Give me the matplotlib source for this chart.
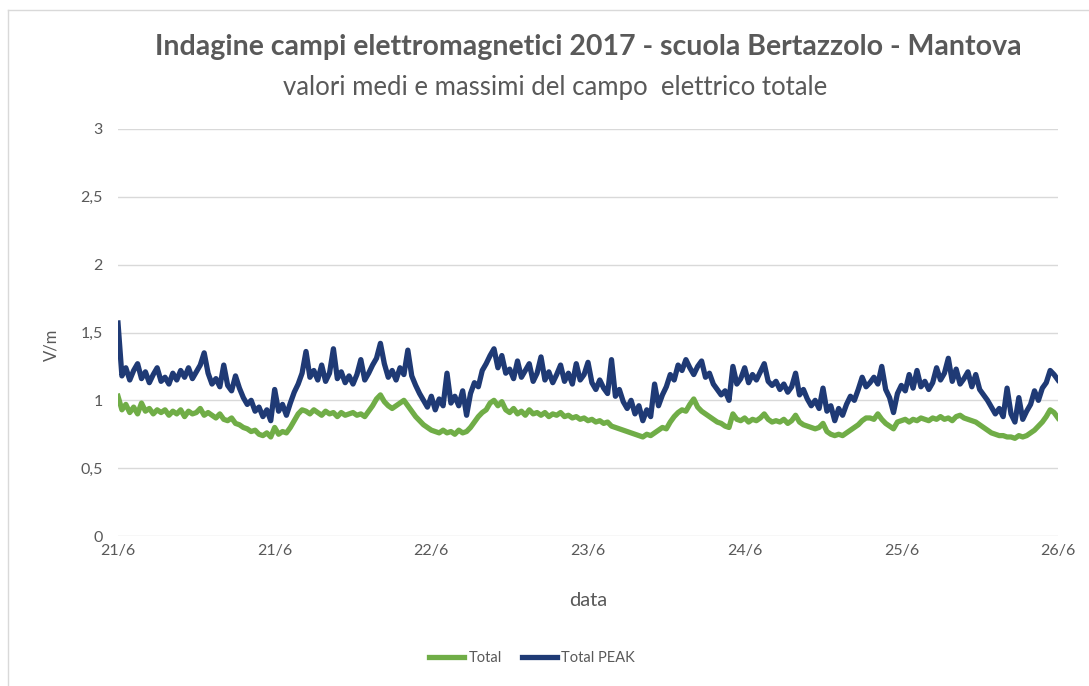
import numpy as np
import matplotlib.pyplot as plt
from matplotlib.lines import Line2D

# ore dall'inizio della misura (21/6 00:00), un valore ogni mezz'ora
ore = np.arange(241) * 0.5

total = [
    1.03, 0.93, 0.97, 0.91, 0.95, 0.90, 0.98, 0.92, 0.94, 0.90, 0.93, 0.91,
    0.93, 0.89, 0.92, 0.90, 0.93, 0.88, 0.92, 0.90, 0.91, 0.94, 0.89, 0.91,
    0.89, 0.87, 0.90, 0.86, 0.85, 0.87, 0.83, 0.82, 0.80, 0.79, 0.77, 0.78,
    0.75, 0.74, 0.76, 0.73, 0.80, 0.75, 0.77, 0.76, 0.80, 0.85, 0.90, 0.93,
    0.92, 0.90, 0.93, 0.91, 0.89, 0.92, 0.90, 0.91, 0.88, 0.91, 0.89, 0.90,
    0.91, 0.89, 0.90, 0.88, 0.92, 0.96, 1.01, 1.04, 0.99, 0.96, 0.94, 0.96,
    0.98, 1.00, 0.96, 0.92, 0.88, 0.85, 0.82, 0.80, 0.78, 0.77, 0.76, 0.78,
    0.76, 0.77, 0.75, 0.78, 0.76, 0.77, 0.80, 0.84, 0.88, 0.91, 0.93, 0.98,
    1.00, 0.96, 0.99, 0.93, 0.91, 0.94, 0.90, 0.92, 0.89, 0.93, 0.90, 0.91,
    0.89, 0.91, 0.88, 0.90, 0.89, 0.91, 0.88, 0.89, 0.87, 0.88, 0.86, 0.87,
    0.85, 0.86, 0.84, 0.85, 0.83, 0.84, 0.81, 0.80, 0.79, 0.78, 0.77, 0.76,
    0.75, 0.74, 0.73, 0.75, 0.74, 0.76, 0.78, 0.80, 0.79, 0.84, 0.88, 0.91,
    0.93, 0.92, 0.97, 1.01, 0.95, 0.92, 0.90, 0.88, 0.86, 0.84, 0.83, 0.81,
    0.80, 0.90, 0.86, 0.85, 0.87, 0.84, 0.86, 0.85, 0.87, 0.90, 0.86, 0.84,
    0.85, 0.84, 0.86, 0.83, 0.85, 0.89, 0.84, 0.82, 0.81, 0.80, 0.79, 0.80,
    0.83, 0.77, 0.75, 0.74, 0.75, 0.74, 0.76, 0.78, 0.80, 0.82, 0.85, 0.87,
    0.87, 0.86, 0.90, 0.86, 0.83, 0.81, 0.79, 0.84, 0.85, 0.86, 0.84, 0.86,
    0.85, 0.87, 0.86, 0.85, 0.87, 0.86, 0.88, 0.86, 0.87, 0.85, 0.88, 0.89,
    0.87, 0.86, 0.85, 0.84, 0.82, 0.80, 0.78, 0.76, 0.75, 0.74, 0.74, 0.73,
    0.73, 0.72, 0.74, 0.73, 0.74, 0.76, 0.78, 0.81, 0.84, 0.88, 0.93, 0.91,
    0.87,
]

total_peak = [
    1.57, 1.18, 1.24, 1.15, 1.22, 1.27, 1.16, 1.21, 1.13, 1.19, 1.24, 1.14,
    1.17, 1.12, 1.20, 1.15, 1.22, 1.17, 1.24, 1.16, 1.21, 1.26, 1.35, 1.20,
    1.12, 1.16, 1.10, 1.26, 1.11, 1.07, 1.18, 1.09, 1.02, 0.97, 1.00, 0.92,
    0.95, 0.88, 0.93, 0.85, 1.08, 0.92, 0.97, 0.89, 0.98, 1.06, 1.12, 1.20,
    1.36, 1.17, 1.22, 1.15, 1.26, 1.14, 1.20, 1.38, 1.16, 1.21, 1.13, 1.18,
    1.12, 1.19, 1.30, 1.15, 1.20, 1.26, 1.31, 1.42, 1.27, 1.17, 1.22, 1.15,
    1.24, 1.19, 1.37, 1.18, 1.11, 1.05, 1.00, 0.95, 1.03, 0.93, 1.01, 0.96,
    1.20, 0.98, 1.03, 0.96, 1.07, 0.89, 1.05, 1.13, 1.10, 1.22, 1.27, 1.33,
    1.38, 1.24, 1.33, 1.20, 1.23, 1.16, 1.29, 1.17, 1.22, 1.27, 1.14, 1.20,
    1.32, 1.15, 1.21, 1.13, 1.19, 1.26, 1.14, 1.20, 1.12, 1.27, 1.15, 1.19,
    1.28, 1.13, 1.08, 1.15, 1.09, 1.05, 1.30, 1.03, 1.08, 0.99, 0.94, 1.00,
    0.90, 0.96, 0.85, 0.93, 0.88, 1.12, 0.96, 1.04, 1.10, 1.19, 1.15, 1.26,
    1.22, 1.30, 1.24, 1.19, 1.25, 1.29, 1.17, 1.20, 1.12, 1.08, 1.04, 1.07,
    1.00, 1.25, 1.12, 1.16, 1.24, 1.13, 1.19, 1.15, 1.21, 1.27, 1.14, 1.11,
    1.14, 1.08, 1.12, 1.06, 1.10, 1.20, 1.04, 1.08, 1.01, 0.96, 1.00, 0.94,
    1.09, 0.92, 0.96, 0.85, 0.94, 0.89, 0.97, 1.03, 1.00, 1.08, 1.17, 1.10,
    1.13, 1.17, 1.12, 1.25, 1.08, 1.02, 0.91, 1.05, 1.11, 1.07, 1.19, 1.09,
    1.22, 1.10, 1.14, 1.08, 1.13, 1.24, 1.15, 1.20, 1.31, 1.14, 1.23, 1.12,
    1.16, 1.21, 1.10, 1.19, 1.08, 1.04, 1.00, 0.95, 0.90, 0.94, 0.88, 1.09,
    0.90, 0.84, 1.02, 0.86, 0.92, 0.97, 1.07, 1.00, 1.09, 1.13, 1.22, 1.19,
    1.15,
]

tick_ore = [0, 20, 40, 60, 80, 100, 120]
tick_labels = ['21/6', '21/6', '22/6', '23/6', '24/6', '25/6', '26/6']
y_ticks = [0, 0.5, 1, 1.5, 2, 2.5, 3]
y_labels = ['0', '0,5', '1', '1,5', '2', '2,5', '3']

verde = '#70AD47'
blu = '#1F3A75'
grigio = '#595959'

plt.rcParams['font.family'] = ['Lato', 'DejaVu Sans']

fig = plt.figure(figsize=(10.89, 6.86), dpi=100)
ax = fig.add_axes([118 / 1089, 1 - 536 / 686, 940 / 1089, 407 / 686])

ax.plot(ore, total, color=verde, lw=3.8, solid_joinstyle='round')
ax.plot(ore, total_peak, color=blu, lw=3.8, solid_joinstyle='round')

ax.set_xlim(0, 120)
ax.set_ylim(0, 3)
ax.set_xticks(tick_ore)
ax.set_xticklabels(tick_labels)
ax.set_yticks(y_ticks)
ax.set_yticklabels(y_labels)
ax.tick_params(length=0, labelsize=11.5, labelcolor=grigio)
ax.tick_params(axis='x', pad=6)
ax.tick_params(axis='y', pad=11)
ax.grid(axis='y', color='#D9D9D9', lw=1)
ax.set_axisbelow(True)
for s in ax.spines.values():
    s.set_visible(False)

fig.text(51 / 1089, 1 - 345 / 686, 'V/m', rotation=90, ha='center', va='center',
         fontsize=12, color=grigio)
fig.text(588 / 1089, 1 - 600 / 686, 'data', ha='center', va='center',
         fontsize=14.5, color=grigio)

fig.text(588 / 1089, 1 - 47 / 686,
         'Indagine campi elettromagnetici 2017 - scuola Bertazzolo - Mantova',
         ha='center', va='center', fontsize=20.5, fontweight='bold', color=grigio)
fig.text(555 / 1089, 1 - 87 / 686,
         'valori medi e massimi del campo  elettrico totale',
         ha='center', va='center', fontsize=18.5, color=grigio)

handles = [Line2D([], [], color=verde, lw=3.8), Line2D([], [], color=blu, lw=3.8)]
fig.legend(handles, ['Total', 'Total PEAK'], loc='center',
           bbox_to_anchor=(532 / 1089, 1 - 658 / 686), ncol=2, frameon=False,
           fontsize=10.5, labelcolor=grigio, handlelength=2.4,
           handletextpad=0.3, columnspacing=1.4)

# cornice del grafico
fig.add_artist(Line2D([8 / 1089, 8 / 1089], [0, 1 - 10 / 686], color='#D9D9D9', lw=1))
fig.add_artist(Line2D([8 / 1089, 1], [1 - 10 / 686, 1 - 10 / 686], color='#D9D9D9', lw=1))

fig.savefig('out.png', dpi=100)
